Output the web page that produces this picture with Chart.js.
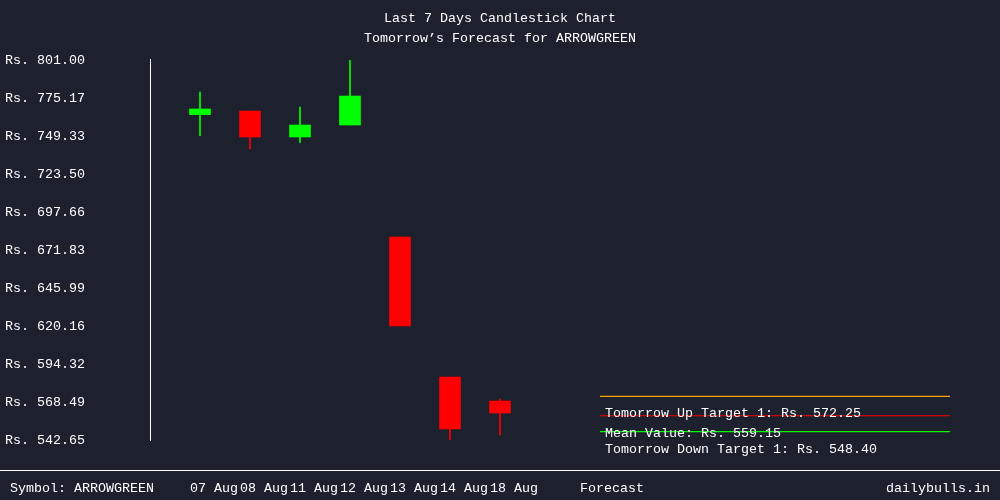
<!DOCTYPE html>
<html>
<head>
<meta charset="utf-8">
<title>ARROWGREEN candlestick</title>
<script src="https://cdn.jsdelivr.net/npm/chart.js@4.4.0/dist/chart.umd.min.js"></script>
<style>
  html, body { margin: 0; padding: 0; background: #1c212d; }
  #chartCandle { display: block; }
</style>
</head>
<body>
<canvas id="chartCandle" width="1000" height="500"></canvas>
<script>
// candle data
const dayLabels = ["07 Aug", "08 Aug", "11 Aug", "12 Aug", "13 Aug", "14 Aug", "18 Aug"];
const openValues = [763.85, 766.3, 748.65, 756.8, 680.65, 585.5, 569.15];
const closeValues = [767.7, 748.65, 756.8, 776.5, 620.15, 550.1, 561.0];
const highValues = [779.25, 766.3, 769.05, 801.0, 680.65, 585.5, 570.5];
const lowValues = [749.55, 740.5, 744.75, 756.8, 620.15, 542.65, 546.05];

const yTickValues = [542.65, 568.49, 594.32, 620.16, 645.99, 671.83, 697.66, 723.5, 749.33, 775.17, 801.0];

const symbolName = "ARROWGREEN";
const forecastLabel = "Forecast";
const upTarget = 572.25;
const meanValue = 559.15;
const downTarget = 548.4;

const bgColor = "#1c212d";
const upColor = "#00ff00";
const downColor = "#ff0000";
const fontFamily = "'Liberation Mono', monospace";
const fontSize = 13.33;

const candleColors = openValues.map((o, i) => (closeValues[i] >= o ? upColor : downColor));

// forecast lines span from slot 8 to slot 15 of the x scale
const forecastLine = (value, color) => ({
  type: "line",
  data: [
    { x: 8, y: value },
    { x: 15, y: value },
  ],
  borderColor: color,
  borderWidth: 1.2,
  pointRadius: 0,
  order: 0,
});

const backgroundAndFooter = {
  id: "backgroundAndFooter",
  beforeDraw(chart) {
    const ctx = chart.ctx;
    ctx.save();
    ctx.fillStyle = bgColor;
    ctx.fillRect(0, 0, chart.width, chart.height);
    ctx.restore();
  },
  afterDraw(chart) {
    const ctx = chart.ctx;
    ctx.save();
    ctx.strokeStyle = "#ffffff";
    ctx.lineWidth = 1;
    ctx.beginPath();
    ctx.moveTo(0, 470.5);
    ctx.lineTo(chart.width, 470.5);
    ctx.stroke();

    ctx.fillStyle = "#ffffff";
    ctx.font = `${fontSize}px ${fontFamily}`;
    ctx.textBaseline = "middle";
    ctx.textAlign = "left";
    ctx.fillText(`Symbol: ${symbolName}`, 10, 488);
    ctx.textAlign = "right";
    ctx.fillText("dailybulls.in", 990, 488);

    ctx.textAlign = "left";
    ctx.fillText(`Tomorrow Up Target 1: Rs. ${upTarget.toFixed(2)}`, 605, 413);
    ctx.fillText(`Mean Value: Rs. ${meanValue.toFixed(2)}`, 605, 433);
    ctx.fillText(`Tomorrow Down Target 1: Rs. ${downTarget.toFixed(2)}`, 605, 449);
    ctx.restore();
  },
};

const chartCandle = new Chart(document.querySelector("#chartCandle"), {
  type: "bar",
  data: {
    datasets: [
      {
        label: "Body",
        data: dayLabels.map((d, i) => ({ x: i, y: [openValues[i], closeValues[i]] })),
        backgroundColor: candleColors,
        barThickness: 21,
        grouped: false,
        order: 1,
      },
      {
        label: "Wick",
        data: dayLabels.map((d, i) => ({ x: i, y: [lowValues[i], highValues[i]] })),
        backgroundColor: candleColors,
        barThickness: 1,
        grouped: false,
        order: 2,
      },
      forecastLine(upTarget, "#ffa500"),
      forecastLine(meanValue, "#ff0000"),
      forecastLine(downTarget, "#00ff00"),
    ],
  },
  options: {
    responsive: false,
    animation: false,
    layout: { padding: { left: 5, right: 5 }, autoPadding: false },
    plugins: {
      legend: { display: false },
      tooltip: { enabled: false },
      title: {
        display: true,
        text: ["Last 7 Days Candlestick Chart", `Tomorrow\u2019s Forecast for ${symbolName}`],
        color: "#ffffff",
        font: { family: fontFamily, size: fontSize, weight: "normal", lineHeight: 1.5 },
        padding: { top: 8, bottom: 12 },
      },
    },
    scales: {
      x: {
        type: "linear",
        offset: false,
        min: -1,
        max: 15.9,
        grid: { display: false, drawTicks: false },
        border: { display: false },
        afterBuildTicks: (scale) => {
          const ticks = dayLabels.map((d, i) => ({ value: i - 0.2 }));
          ticks.push({ value: 7.6 });
          scale.ticks = ticks;
        },
        afterFit: (scale) => {
          scale.height = 60;
        },
        ticks: {
          autoSkip: false,
          maxRotation: 0,
          align: "start",
          padding: 40,
          color: "#ffffff",
          font: { family: fontFamily, size: fontSize },
          callback: (value, index) => (index < dayLabels.length ? dayLabels[index] : forecastLabel),
        },
      },
      y: {
        min: yTickValues[0],
        max: yTickValues[yTickValues.length - 1],
        grid: { display: false, drawTicks: false },
        border: { display: true, color: "#ffffff", width: 1 },
        afterBuildTicks: (scale) => {
          scale.ticks = yTickValues.map((v) => ({ value: v }));
        },
        afterFit: (scale) => {
          scale.width = 145;
        },
        ticks: {
          padding: 0,
          crossAlign: "far",
          color: "#ffffff",
          font: { family: fontFamily, size: fontSize },
          callback: (value) => `Rs. ${value.toFixed(2)}`,
        },
      },
    },
  },
  plugins: [backgroundAndFooter],
});
</script>
</body>
</html>
